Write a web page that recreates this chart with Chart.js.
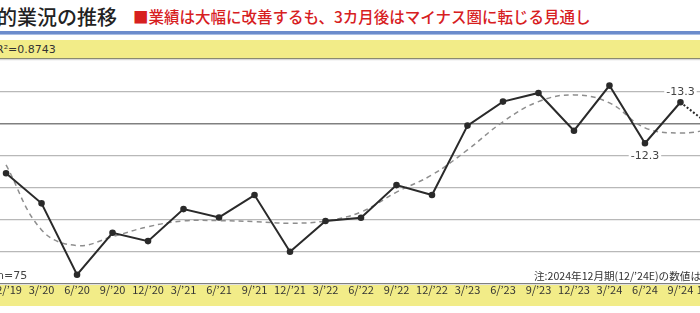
<!DOCTYPE html>
<html>
<head>
<meta charset="utf-8">
<script src="https://cdn.jsdelivr.net/npm/chart.js@4"></script>
<style>
  body { margin: 0; width: 700px; height: 313px; overflow: hidden; position: relative; background: #fff; font-family: "Noto Sans CJK JP", "Noto Sans", sans-serif; }
  .abs { position: absolute; white-space: nowrap; }
  #title { left: -3px; top: 2px; font-size: 20px; color: #222; font-weight: 500; }
  #sub { left: 133px; top: 5px; font-size: 15.5px; color: #d7201f; font-weight: 500; }
  #rule { left: 0; top: 31px; width: 700px; height: 3px; background: #6c8ccc; border-bottom: 1px solid #a9bde3; }
  #band1 { left: 0; top: 40px; width: 700px; height: 18px; background: #f2ec88; border-bottom: 1px solid #8a8a70; }
  #r2 { left: -4px; top: 43px; font-size: 11px; color: #333; font-family: "DejaVu Sans", sans-serif; }
  #band2 { left: 0; top: 285px; width: 700px; height: 21px; background: #f2ec88; }
  #n { left: -3px; top: 269px; font-size: 11px; color: #444; font-family: "DejaVu Sans", sans-serif; }
  #note { left: 534px; top: 268px; font-size: 10.6px; color: #333; }
  #c { position: absolute; left: -16px; top: 0; }
</style>
</head>
<body>
<div class="abs" id="title">的業況の推移</div>
<div class="abs" id="sub">■業績は大幅に改善するも、3カ月後はマイナス圏に転じる見通し</div>
<div class="abs" id="rule"></div>
<div class="abs" id="band1"></div>
<div class="abs" id="r2">R²=0.8743</div>
<div class="abs" id="band2"></div>
<canvas id="c" width="754" height="313"></canvas>
<div class="abs" id="n">n=75</div>
<div class="abs" id="note">注:2024年12月期(12/’24E)の数値は見通し</div>
<script>
// quarters, last one is the outlook
var quarters = ["12/’19", "3/’20", "6/’20", "9/’20", "12/’20", "3/’21", "6/’21", "9/’21", "12/’21",
  "3/’22", "6/’22", "9/’22", "12/’22", "3/’23", "6/’23", "9/’23", "12/’23", "3/’24", "6/’24", "9/’24", "12/’24E"];

var diValues = [-15.4, -24.8, -47.1, -34.0, -36.6, -26.6, -29.2, -22.2, -39.9,
  -30.3, -29.3, -19.1, -22.2, -0.5, 7.0, 9.7, -2.1, 12.0, -6.0, 6.8, -1.9];

// polynomial trend line (R²=0.8743)
var trendValues = [-12.8, -33.1, -38.0, -35.2, -32.1, -30.3, -30.2, -30.5, -31.0,
  -30.3, -27.5, -21.3, -15.9, -8.1, 0.7, 7.0, 9.1, 6.6, -1.2, -2.8, -1.5];

var yTicks = [20, 10, 0, -10, -20, -30, -40, -50];

var valueLabels = ["-13.3", "-12.3"];
var valueLabelIndex = [19, 18];
var valueLabelLevel = [10, -10];

var labelPlugin = {
  id: 'valueLabels',
  afterDatasetsDraw: function (chart) {
    var ctx = chart.ctx;
    var xs = chart.scales.x, ys = chart.scales.y;
    ctx.save();
    ctx.font = '11px "DejaVu Sans", sans-serif';
    ctx.textAlign = 'center';
    ctx.textBaseline = 'middle';
    for (var i = 0; i < valueLabels.length; i++) {
      var x = xs.getPixelForValue(valueLabelIndex[i]);
      var y = ys.getPixelForValue(valueLabelLevel[i]);
      var w = ctx.measureText(valueLabels[i]).width + 4;
      ctx.fillStyle = '#fff';
      ctx.fillRect(x - w / 2, y - 6, w, 12);
      ctx.fillStyle = '#444';
      ctx.fillText(valueLabels[i], x, y);
    }
    ctx.restore();
  }
};

var ctx = document.getElementById('c').getContext('2d');
var chart = new Chart(ctx, {
  type: 'line',
  data: {
    labels: quarters,
    datasets: [{
      data: diValues,
      borderColor: '#2a2a2a',
      backgroundColor: '#2a2a2a',
      borderWidth: 2,
      pointRadius: 2.3,
      pointHoverRadius: 2.3,
      tension: 0,
      order: 1,
      segment: {
        borderDash: function (c) { return c.p1DataIndex === quarters.length - 1 ? [2, 2] : undefined; }
      }
    }, {
      data: trendValues,
      borderColor: '#8e8e8e',
      borderWidth: 1.5,
      borderDash: [5, 4],
      pointRadius: 0,
      tension: 0.4,
      order: 2
    }]
  },
  options: {
    responsive: false,
    devicePixelRatio: 1,
    animation: false,
    layout: { padding: { top: 60, bottom: 7, left: 0, right: 0 } },
    plugins: { legend: { display: false }, tooltip: { enabled: false } },
    scales: {
      x: {
        offset: true,
        grid: { display: false, drawTicks: false },
        border: { display: false },
        ticks: { color: '#333', font: { size: 11, family: '"Noto Sans CJK JP", sans-serif' }, padding: -1, maxRotation: 0, autoSkip: false },
        afterFit: function (s) { s.height = 22; s.paddingLeft = 0; s.paddingRight = 0; }
      },
      y: {
        min: -50,
        max: 20,
        afterBuildTicks: function (s) { s.ticks = yTicks.map(function (v) { return { value: v }; }); },
        ticks: { display: false },
        border: { display: false },
        grid: {
          drawTicks: false,
          color: function (c) {
            var v = c.tick.value;
            if (v === 0 || v === -50) return '#808080';
            if (v === 20) return '#d8d8d8';
            return '#b8b8b8';
          },
          lineWidth: function (c) { return c.tick.value === 0 ? 1.6 : 1.2; }
        },
        afterFit: function (s) { s.width = 0; s.paddingTop = 0; s.paddingBottom = 0; }
      }
    }
  },
  plugins: [labelPlugin]
});
</script>
</body>
</html>
